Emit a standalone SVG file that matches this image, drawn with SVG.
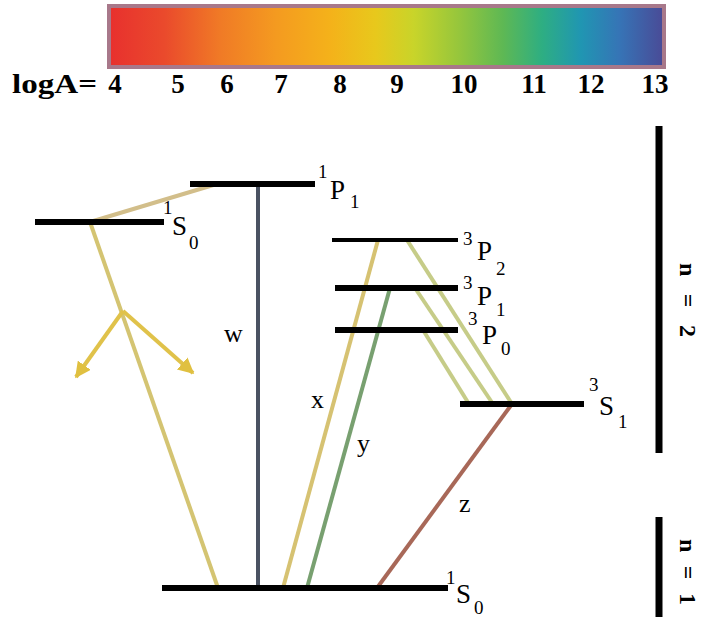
<svg xmlns="http://www.w3.org/2000/svg" width="702" height="619" viewBox="0 0 702 619">
<defs>
<linearGradient id="scale" x1="0" y1="0" x2="1" y2="0">
<stop offset="0" stop-color="#e8302e"/>
<stop offset="0.1" stop-color="#ea4a2c"/>
<stop offset="0.2" stop-color="#f07a26"/>
<stop offset="0.3" stop-color="#f49a20"/>
<stop offset="0.4" stop-color="#f4b21a"/>
<stop offset="0.48" stop-color="#e8c81c"/>
<stop offset="0.55" stop-color="#c8d42a"/>
<stop offset="0.63" stop-color="#96c63c"/>
<stop offset="0.71" stop-color="#5eb854"/>
<stop offset="0.78" stop-color="#2eae82"/>
<stop offset="0.85" stop-color="#2096b2"/>
<stop offset="0.92" stop-color="#3674b6"/>
<stop offset="1" stop-color="#4a4a96"/>
</linearGradient>
<marker id="ah" viewBox="0 0 10 10" refX="9" refY="5" markerWidth="4" markerHeight="4" orient="auto" markerUnits="strokeWidth">
<path d="M0,0 L10,5 L0,10 z" fill="#e0c040"/>
</marker>
<style>
.lvl{stroke:#000;stroke-width:6;fill:none}
.lvlt{stroke:#000;stroke-width:4;fill:none}
.c{fill:none;stroke-width:4;stroke-linecap:butt}
.t{font-family:"Liberation Serif","Times New Roman",serif;fill:#000}
.m{font-size:27px}
.s{font-size:19px}
.n{font-size:27px;font-weight:bold}
.l{font-size:26px}
.sh{font-size:24px;font-weight:bold}
</style>
</defs>
<rect width="702" height="619" fill="#fff"/>
<g id="scalebar">
<rect x="109" y="6" width="555" height="61" fill="url(#scale)" stroke="#a8788a" stroke-width="4"/>
<text class="t n" x="12" y="93" textLength="85" lengthAdjust="spacingAndGlyphs">logA=</text>
<text class="t n" text-anchor="middle" x="115" y="93">4</text>
<text class="t n" text-anchor="middle" x="178" y="93">5</text>
<text class="t n" text-anchor="middle" x="227" y="93">6</text>
<text class="t n" text-anchor="middle" x="281" y="93">7</text>
<text class="t n" text-anchor="middle" x="340" y="93">8</text>
<text class="t n" text-anchor="middle" x="397" y="93">9</text>
<text class="t n" text-anchor="middle" x="464" y="93">10</text>
<text class="t n" text-anchor="middle" x="534" y="93">11</text>
<text class="t n" text-anchor="middle" x="591" y="93">12</text>
<text class="t n" text-anchor="middle" x="655" y="93">13</text>
</g>
<g id="connectors">
<line class="c" x1="258" y1="186" x2="258" y2="588" stroke="#4a5262" stroke-width="5"/>
<line class="c" x1="90" y1="222" x2="220" y2="183" stroke="#d2be8a"/>
<line class="c" x1="90" y1="222" x2="218" y2="588" stroke="#d4c472"/>
<line class="c" x1="123" y1="311" x2="76" y2="377" stroke="#e0c24a" marker-end="url(#ah)"/>
<line class="c" x1="123" y1="311" x2="193" y2="373" stroke="#e0c24a" marker-end="url(#ah)"/>
<line class="c" x1="378" y1="240" x2="283" y2="588" stroke="#d6c272"/>
<line class="c" x1="390" y1="288" x2="307" y2="588" stroke="#78a070"/>
<line class="c" x1="407" y1="240" x2="512" y2="404" stroke="#c6cc88"/>
<line class="c" x1="415" y1="288" x2="493" y2="404" stroke="#c6cc88"/>
<line class="c" x1="423" y1="330" x2="469" y2="404" stroke="#c6cc88"/>
<line class="c" x1="377" y1="588" x2="512" y2="404" stroke="#a86858"/>
<text class="t l" x="224" y="342">w</text>
<text class="t l" x="311" y="408">x</text>
<text class="t l" x="357" y="452">y</text>
<text class="t l" x="459" y="512">z</text>
</g>
<g id="level-1P1">
<line class="lvl" x1="190" y1="184" x2="315" y2="184"/>
<text class="t s" x="318" y="178">1</text>
<text class="t m" x="330" y="199">P</text>
<text class="t s" x="350" y="208">1</text>
</g>
<g id="level-1S0-upper">
<line class="lvl" x1="35" y1="222" x2="164" y2="222"/>
<text class="t s" x="163" y="214">1</text>
<text class="t m" x="172" y="235">S</text>
<text class="t s" x="189" y="249">0</text>
</g>
<g id="level-3P2">
<line class="lvlt" x1="332" y1="240" x2="458" y2="240"/>
<text class="t s" x="463" y="245">3</text>
<text class="t m" x="477" y="260">P</text>
<text class="t s" x="496" y="275">2</text>
</g>
<g id="level-3P1">
<line class="lvl" x1="335" y1="288" x2="458" y2="288"/>
<text class="t s" x="463" y="289">3</text>
<text class="t m" x="477" y="305">P</text>
<text class="t s" x="496" y="316">1</text>
</g>
<g id="level-3P0">
<line class="lvl" x1="335" y1="330" x2="458" y2="330"/>
<text class="t s" x="468" y="325">3</text>
<text class="t m" x="482" y="344">P</text>
<text class="t s" x="501" y="355">0</text>
</g>
<g id="level-3S1">
<line class="lvl" x1="460" y1="404" x2="584" y2="404"/>
<text class="t s" x="589" y="391">3</text>
<text class="t m" x="599" y="415">S</text>
<text class="t s" x="618" y="428">1</text>
</g>
<g id="level-1S0-ground">
<line class="lvl" x1="162" y1="588" x2="448" y2="588"/>
<text class="t s" x="446" y="584">1</text>
<text class="t m" x="456" y="603">S</text>
<text class="t s" x="474" y="614">0</text>
</g>
<g id="shell-n2">
<line x1="659" y1="126" x2="659" y2="453" stroke="#000" stroke-width="7"/>
<text class="t sh" transform="translate(680,300) rotate(90)" text-anchor="middle" textLength="74" lengthAdjust="spacing">n = 2</text>
</g>
<g id="shell-n1">
<line x1="659" y1="517" x2="659" y2="617" stroke="#000" stroke-width="7"/>
<text class="t sh" transform="translate(680,572) rotate(90)" text-anchor="middle" textLength="66" lengthAdjust="spacing">n = 1</text>
</g>
</svg>
